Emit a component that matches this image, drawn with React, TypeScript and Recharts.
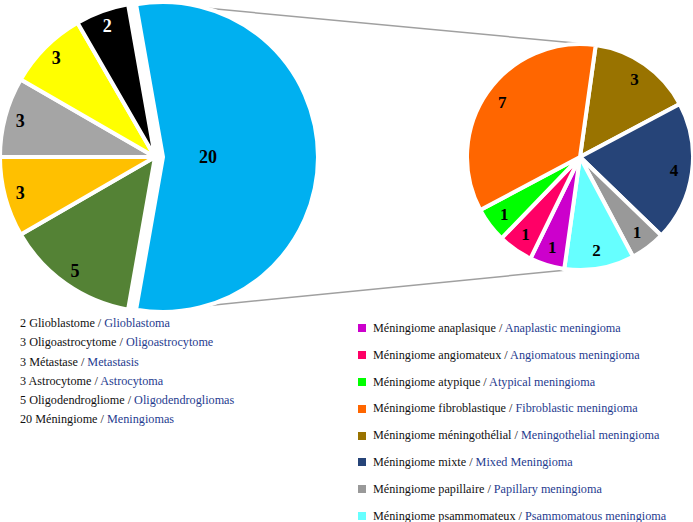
import { PieChart, Pie, Cell, Customized } from 'recharts'

// main pie: tumour types (left)
const mainNames = ['Méningiome', 'Oligodendrogliome', 'Astrocytome', 'Métastase', 'Oligoastrocytome', 'Glioblastome']
const mainValues = [20, 5, 3, 3, 3, 2]
const mainColors = ['#00b0f0', '#548235', '#ffc000', '#a5a5a5', '#ffff00', '#000000']

// legend under the main pie (top to bottom)
const mainLegendFr = ['2 Glioblastome', '3 Oligoastrocytome', '3 Métastase', '3 Astrocytome', '5 Oligodendrogliome', '20 Méningiome']
const mainLegendEn = ['Glioblastoma', 'Oligoastrocytome', 'Metastasis', 'Astrocytoma', 'Oligodendrogliomas', 'Meningiomas']

// breakdown of the meningiomas (right pie), clockwise from the top
const subNames = ['méningothélial', 'mixte', 'papillaire', 'psammomateux', 'anaplasique', 'angiomateux', 'atypique', 'fibroblastique']
const subValues = [3, 4, 1, 2, 1, 1, 1, 7]
const subColors = ['#997300', '#264478', '#999999', '#66ffff', '#cc00cc', '#ff0066', '#00ff00', '#ff6600']

const subLegendFr = [
  'Méningiome anaplasique',
  'Méningiome angiomateux',
  'Méningiome atypique',
  'Méningiome fibroblastique',
  'Méningiome méningothélial',
  'Méningiome mixte',
  'Méningiome papillaire',
  'Méningiome psammomateux',
]
const subLegendEn = [
  'Anaplastic meningioma',
  'Angiomatous meningioma',
  'Atypical meningioma',
  'Fibroblastic meningioma',
  'Meningothelial meningioma',
  'Mixed Meningioma',
  'Papillary meningioma',
  'Psammomatous meningioma',
]
const subLegendColors = ['#cc00cc', '#ff0066', '#00ff00', '#ff6600', '#997300', '#264478', '#999999', '#66ffff']

const mainData = mainNames.map((name, i) => ({ name, value: mainValues[i] }))
const subData = subNames.map((name, i) => ({ name, value: subValues[i] }))

const RADIAN = Math.PI / 180
const FONT = '"Liberation Serif", "DejaVu Serif", serif'
const BLUE_TEXT = '#1f3c8f'

const LEFT = { cx: 155, cy: 157, r: 155, start: 100 }
const BLUE_SHIFT = 8
const RIGHT = { cx: 580, cy: 157, r: 113, start: 82 }

function makeLabel(ratioFor: (i: number) => number, colorFor: (i: number) => string, size: number) {
  return (props: any) => {
    const { cx, cy, midAngle, outerRadius, index, value } = props
    const rr = outerRadius * ratioFor(index)
    const x = cx + rr * Math.cos(-midAngle * RADIAN)
    const y = cy + rr * Math.sin(-midAngle * RADIAN)
    return (
      <text
        x={x}
        y={y}
        fill={colorFor(index)}
        textAnchor="middle"
        dominantBaseline="central"
        fontFamily={FONT}
        fontWeight="bold"
        fontSize={size}
      >
        {value}
      </text>
    )
  }
}

const mainLabel = makeLabel((i) => (i === 0 ? 0.29 : 0.9), (i) => (i === 5 ? '#fff' : '#000'), 18)
const blueLabel = (props: any) => (props.index === 0 ? mainLabel(props) : null)
const otherLabel = (props: any) => (props.index === 0 ? null : mainLabel(props))
const subLabel = makeLabel(() => 0.84, () => '#000', 17)

// grey lines joining the meningioma slice to the breakdown pie
function Connectors() {
  const bx = LEFT.cx + BLUE_SHIFT
  const a = 79 * RADIAN
  const r = LEFT.r - 2
  const top = [bx + r * Math.cos(a), LEFT.cy - r * Math.sin(a)]
  const bot = [bx + r * Math.cos(a), LEFT.cy + r * Math.sin(a)]
  const rt = [RIGHT.cx + 6, RIGHT.cy - RIGHT.r]
  const rb = [RIGHT.cx - 3, RIGHT.cy + RIGHT.r - 1]
  return (
    <g stroke="#a0a0a0" strokeWidth={1.5}>
      <line x1={top[0]} y1={top[1]} x2={rt[0]} y2={rt[1]} />
      <line x1={bot[0]} y1={bot[1]} x2={rb[0]} y2={rb[1]} />
    </g>
  )
}

export default function App() {
  return (
    <div style={{ position: 'absolute', left: 0, top: 0, width: 693, height: 522, background: '#fff', fontFamily: FONT }}>
      <PieChart width={693} height={522} margin={{ top: 0, right: 0, bottom: 0, left: 0 }}>
        <Customized component={Connectors} />
        <Pie
          data={mainData}
          dataKey="value"
          cx={LEFT.cx}
          cy={LEFT.cy}
          outerRadius={LEFT.r}
          startAngle={LEFT.start}
          endAngle={LEFT.start - 360}
          stroke="#fff"
          strokeWidth={4}
          label={otherLabel}
          labelLine={false}
          isAnimationActive={false}
        >
          {mainData.map((d, i) => (
            <Cell key={d.name} fill={i === 0 ? 'none' : mainColors[i]} stroke={i === 0 ? 'none' : '#fff'} />
          ))}
        </Pie>
        <Pie
          data={mainData}
          dataKey="value"
          cx={LEFT.cx + BLUE_SHIFT}
          cy={LEFT.cy}
          outerRadius={LEFT.r}
          startAngle={LEFT.start}
          endAngle={LEFT.start - 360}
          stroke="#fff"
          strokeWidth={4}
          label={blueLabel}
          labelLine={false}
          isAnimationActive={false}
        >
          {mainData.map((d, i) => (
            <Cell key={d.name} fill={i === 0 ? mainColors[0] : 'none'} stroke={i === 0 ? '#fff' : 'none'} />
          ))}
        </Pie>
        <Pie
          data={subData}
          dataKey="value"
          cx={RIGHT.cx}
          cy={RIGHT.cy}
          outerRadius={RIGHT.r}
          startAngle={RIGHT.start}
          endAngle={RIGHT.start - 360}
          stroke="#fff"
          strokeWidth={4}
          label={subLabel}
          labelLine={false}
          isAnimationActive={false}
        >
          {subData.map((d, i) => (
            <Cell key={d.name} fill={subColors[i]} />
          ))}
        </Pie>
      </PieChart>

      <div style={{ position: 'absolute', left: 20, top: 314, fontSize: 12.2, lineHeight: '19.3px', color: '#111' }}>
        {mainLegendFr.map((fr, i) => (
          <div key={fr} style={{ whiteSpace: 'nowrap' }}>
            {fr} / <span style={{ color: BLUE_TEXT }}>{mainLegendEn[i]}</span>
          </div>
        ))}
      </div>

      <div style={{ position: 'absolute', left: 358, top: 315, fontSize: 12.2, lineHeight: '26.8px', color: '#111' }}>
        {subLegendFr.map((fr, i) => (
          <div key={fr} style={{ display: 'flex', alignItems: 'center', whiteSpace: 'nowrap' }}>
            <span style={{ width: 8, height: 8, background: subLegendColors[i], marginRight: 7, display: 'inline-block' }} />
            <span>
              {fr} / <span style={{ color: BLUE_TEXT }}>{subLegendEn[i]}</span>
            </span>
          </div>
        ))}
      </div>
    </div>
  )
}
